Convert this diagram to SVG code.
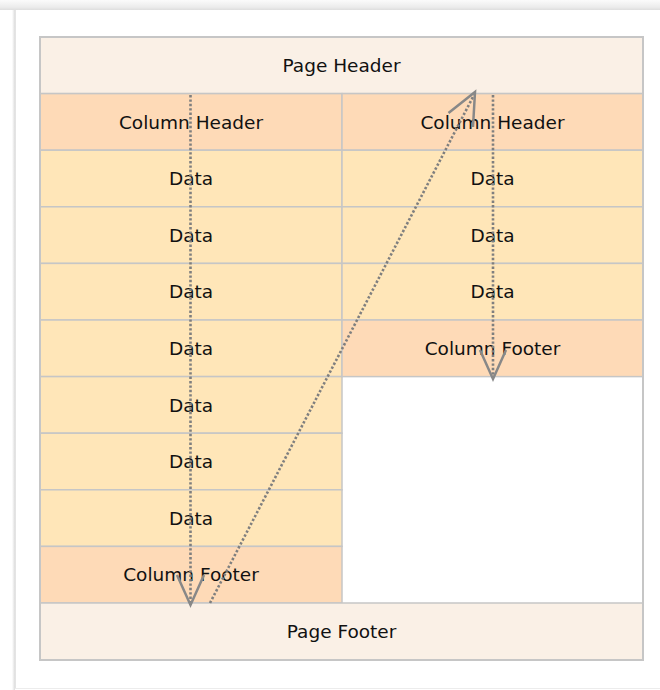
<svg xmlns="http://www.w3.org/2000/svg" width="660" height="690" viewBox="0 0 660 690">
<defs>
<linearGradient id="topShadow" x1="0" y1="0" x2="0" y2="1">
<stop offset="0" stop-color="#fbfbfb"/>
<stop offset="0.7" stop-color="#ececec"/>
<stop offset="1" stop-color="#dedede"/>
</linearGradient>
<linearGradient id="leftShadow" x1="0" y1="0" x2="1" y2="0">
<stop offset="0" stop-color="#ffffff"/>
<stop offset="1" stop-color="#dcdcdc"/>
</linearGradient>
<style>
.cell{stroke:#c6c6c6;stroke-width:1.5}
.ph{fill:#faf0e6}
.ch{fill:#fedab7}
.dt{fill:#ffe6b8}
.lbl{font-family:"DejaVu Sans",Verdana,sans-serif;font-size:18.5px;fill:#111;text-anchor:middle}
.dots{stroke:#7f7f7f;stroke-width:2.6;stroke-dasharray:2.4 2;fill:none}
.head{stroke:#888;stroke-width:2.5;fill:none;stroke-linejoin:miter}
</style>
</defs>
<rect x="0" y="0" width="660" height="690" fill="#ffffff"/>
<rect x="0" y="0" width="660" height="10" fill="url(#topShadow)"/>
<rect x="12" y="10" width="3" height="680" fill="url(#leftShadow)"/>
<line x1="15.5" y1="10" x2="15.5" y2="688" stroke="#e4e4e4" stroke-width="1"/>
<line x1="15" y1="688.5" x2="660" y2="688.5" stroke="#ececec" stroke-width="1"/>

<g id="page-header">
<rect class="cell ph" x="40" y="37" width="603" height="56.6"/>
<text class="lbl" x="341.5" y="72">Page Header</text>
</g>
<g id="column-header-1">
<rect class="cell ch" x="40" y="93.6" width="302" height="56.6"/>
<text class="lbl" x="191" y="128.6">Column Header</text>
</g>
<g id="column-header-2">
<rect class="cell ch" x="342" y="93.6" width="301" height="56.6"/>
<text class="lbl" x="492.5" y="128.6">Column Header</text>
</g>
<g id="data-1-1">
<rect class="cell dt" x="40" y="150.2" width="302" height="56.6"/>
<text class="lbl" x="191" y="185.2">Data</text>
</g>
<g id="data-1-2">
<rect class="cell dt" x="40" y="206.8" width="302" height="56.6"/>
<text class="lbl" x="191" y="241.8">Data</text>
</g>
<g id="data-1-3">
<rect class="cell dt" x="40" y="263.4" width="302" height="56.6"/>
<text class="lbl" x="191" y="298.4">Data</text>
</g>
<g id="data-1-4">
<rect class="cell dt" x="40" y="320" width="302" height="56.6"/>
<text class="lbl" x="191" y="355">Data</text>
</g>
<g id="data-1-5">
<rect class="cell dt" x="40" y="376.6" width="302" height="56.6"/>
<text class="lbl" x="191" y="411.6">Data</text>
</g>
<g id="data-1-6">
<rect class="cell dt" x="40" y="433.2" width="302" height="56.6"/>
<text class="lbl" x="191" y="468.2">Data</text>
</g>
<g id="data-1-7">
<rect class="cell dt" x="40" y="489.8" width="302" height="56.6"/>
<text class="lbl" x="191" y="524.8">Data</text>
</g>
<g id="column-footer-1">
<rect class="cell ch" x="40" y="546.4" width="302" height="56.6"/>
<text class="lbl" x="191" y="581.4">Column Footer</text>
</g>
<g id="data-2-1">
<rect class="cell dt" x="342" y="150.2" width="301" height="56.6"/>
<text class="lbl" x="492.5" y="185.2">Data</text>
</g>
<g id="data-2-2">
<rect class="cell dt" x="342" y="206.8" width="301" height="56.6"/>
<text class="lbl" x="492.5" y="241.8">Data</text>
</g>
<g id="data-2-3">
<rect class="cell dt" x="342" y="263.4" width="301" height="56.6"/>
<text class="lbl" x="492.5" y="298.4">Data</text>
</g>
<g id="column-footer-2">
<rect class="cell ch" x="342" y="320" width="301" height="56.6"/>
<text class="lbl" x="492.5" y="355">Column Footer</text>
</g>
<g id="page-footer">
<rect class="cell ph" x="40" y="603" width="603" height="57"/>
<text class="lbl" x="341.5" y="638">Page Footer</text>
</g>
<rect x="40" y="37" width="603" height="623" fill="none" stroke="#c6c6c6" stroke-width="2"/>

<g id="connectors">
<line class="dots" x1="190.5" y1="95" x2="190.5" y2="603"/>
<polyline class="head" points="177,575 190.5,605 204,575"/>
<line class="dots" x1="210" y1="603" x2="474" y2="95"/>
<polyline class="head" points="448.5,113 475,92 473,127"/>
<line class="dots" x1="493" y1="95" x2="493" y2="376"/>
<polyline class="head" points="480,350 493,379 506,350"/>
</g>
</svg>
